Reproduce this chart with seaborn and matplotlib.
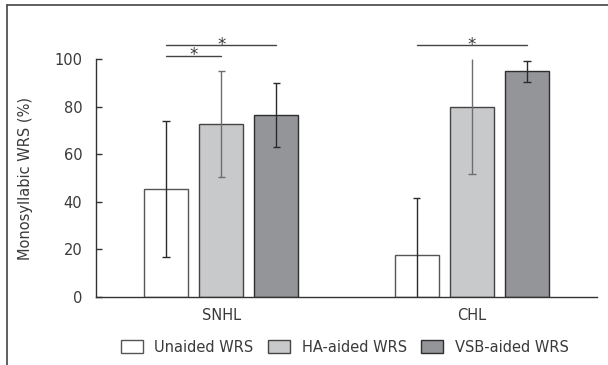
import matplotlib
matplotlib.use("Agg")
import matplotlib.pyplot as plt
import matplotlib.patches as mpatches
from matplotlib.lines import Line2D
import seaborn as sns
import pandas as pd

# ---- data ----
groups = ["SNHL", "CHL"]
conditions = ["Unaided WRS", "HA-aided WRS", "VSB-aided WRS"]
means = {
    "Unaided WRS": [45.3, 17.4],
    "HA-aided WRS": [72.6, 80.0],
    "VSB-aided WRS": [76.5, 94.9],
}
sds = {
    "Unaided WRS": [28.6, 24.2],
    "HA-aided WRS": [22.3, 28.2],
    "VSB-aided WRS": [13.4, 4.4],
}
# significance: (group index, condition a, condition b, level)
sig_pairs = [(0, 0, 1, 0), (0, 0, 2, 1), (1, 0, 2, 1)]
yticks = [0, 20, 40, 60, 80, 100]

fills = ["#ffffff", "#c8c9cb", "#939598"]
edges = ["#555555", "#444444", "#2e2e2e"]
err_colors = ["#2a2a2a", "#6e6e6e", "#2a2a2a"]
txt = "#3a3a3a"

rows = []
for c in conditions:
    for g, m in zip(groups, means[c]):
        rows.append({"group": g, "condition": c, "value": m})
df = pd.DataFrame(rows)

sns.set_theme(style="white")
plt.rcParams["font.family"] = ["DejaVu Sans"]

fig = plt.figure(figsize=(6.08, 3.65), dpi=100)
ax = fig.add_axes([0.158, 0.187, 0.824, 0.6505])

sns.barplot(data=df, x="group", y="value", hue="condition", order=groups,
            hue_order=conditions, palette=fills, width=0.66, gap=0.2,
            errorbar=None, legend=False, ax=ax, linewidth=1.0, saturation=1)

centers = []
for i, cont in enumerate(ax.containers):
    cs = []
    for j, bar in enumerate(cont):
        bar.set_edgecolor(edges[i])
        bar.set_linewidth(1.0)
        cx = bar.get_x() + bar.get_width() / 2
        cs.append(cx)
        m = means[conditions[i]][j]
        s = sds[conditions[i]][j]
        lo = max(m - s, 0)
        hi = min(m + s, 100)
        ax.vlines(cx, lo, hi, color=err_colors[i], lw=1.0, zorder=5, clip_on=False)
        cw = 0.015
        if m - s > 0:
            ax.hlines(lo, cx - cw, cx + cw, color=err_colors[i], lw=1.0, zorder=5)
        if m + s < 100:
            ax.hlines(hi, cx - cw, cx + cw, color=err_colors[i], lw=1.0, zorder=5)
    centers.append(cs)

levels = [101.5, 106.0]
for g, a, b, lev in sig_pairs:
    x0, x1 = centers[a][g], centers[b][g]
    y = levels[lev]
    ax.plot([x0, x1], [y, y], color="#444444", lw=1.0, clip_on=False)
    ax.text((x0 + x1) / 2, y - 2.0, "*", ha="center", va="baseline",
            fontsize=12, color=txt, clip_on=False)

ax.set_xlim(-0.5, 1.5)
ax.set_ylim(0, 100)
ax.set_yticks(yticks)
ax.set_xlabel("")
ax.set_ylabel("Monosyllabic WRS (%)", fontsize=10.5, color=txt)
ax.yaxis.set_label_coords(-0.126, 0.5)
for s in ["top", "right"]:
    ax.spines[s].set_visible(False)
for s in ["left", "bottom"]:
    ax.spines[s].set_color("#333333")
    ax.spines[s].set_linewidth(1.0)
ax.tick_params(axis="y", direction="in", length=4, width=1.0, color="#333333",
               pad=10, labelsize=10.5, labelcolor=txt, left=True)
ax.tick_params(axis="x", length=0, pad=8, labelsize=10.5, labelcolor=txt)

handles = [mpatches.Patch(facecolor=f, edgecolor=e, lw=1.0, label=c)
           for f, e, c in zip(fills, edges, conditions)]
leg = fig.legend(handles=handles, loc="center", bbox_to_anchor=(0.567, 0.049),
                 ncol=3, frameon=False, fontsize=10.5, handlelength=1.5,
                 handleheight=0.95, handletextpad=0.8, columnspacing=1.0)
for t in leg.get_texts():
    t.set_color(txt)

# outer frame (top and left)
fx0, fy0 = 7 / 608, 1 - 5 / 365
fig.add_artist(Line2D([fx0, 1.0], [fy0, fy0], transform=fig.transFigure,
                      color="#444444", lw=1.2))
fig.add_artist(Line2D([fx0, fx0], [0.0, fy0], transform=fig.transFigure,
                      color="#444444", lw=1.2))

fig.savefig("out.png", dpi=100)
